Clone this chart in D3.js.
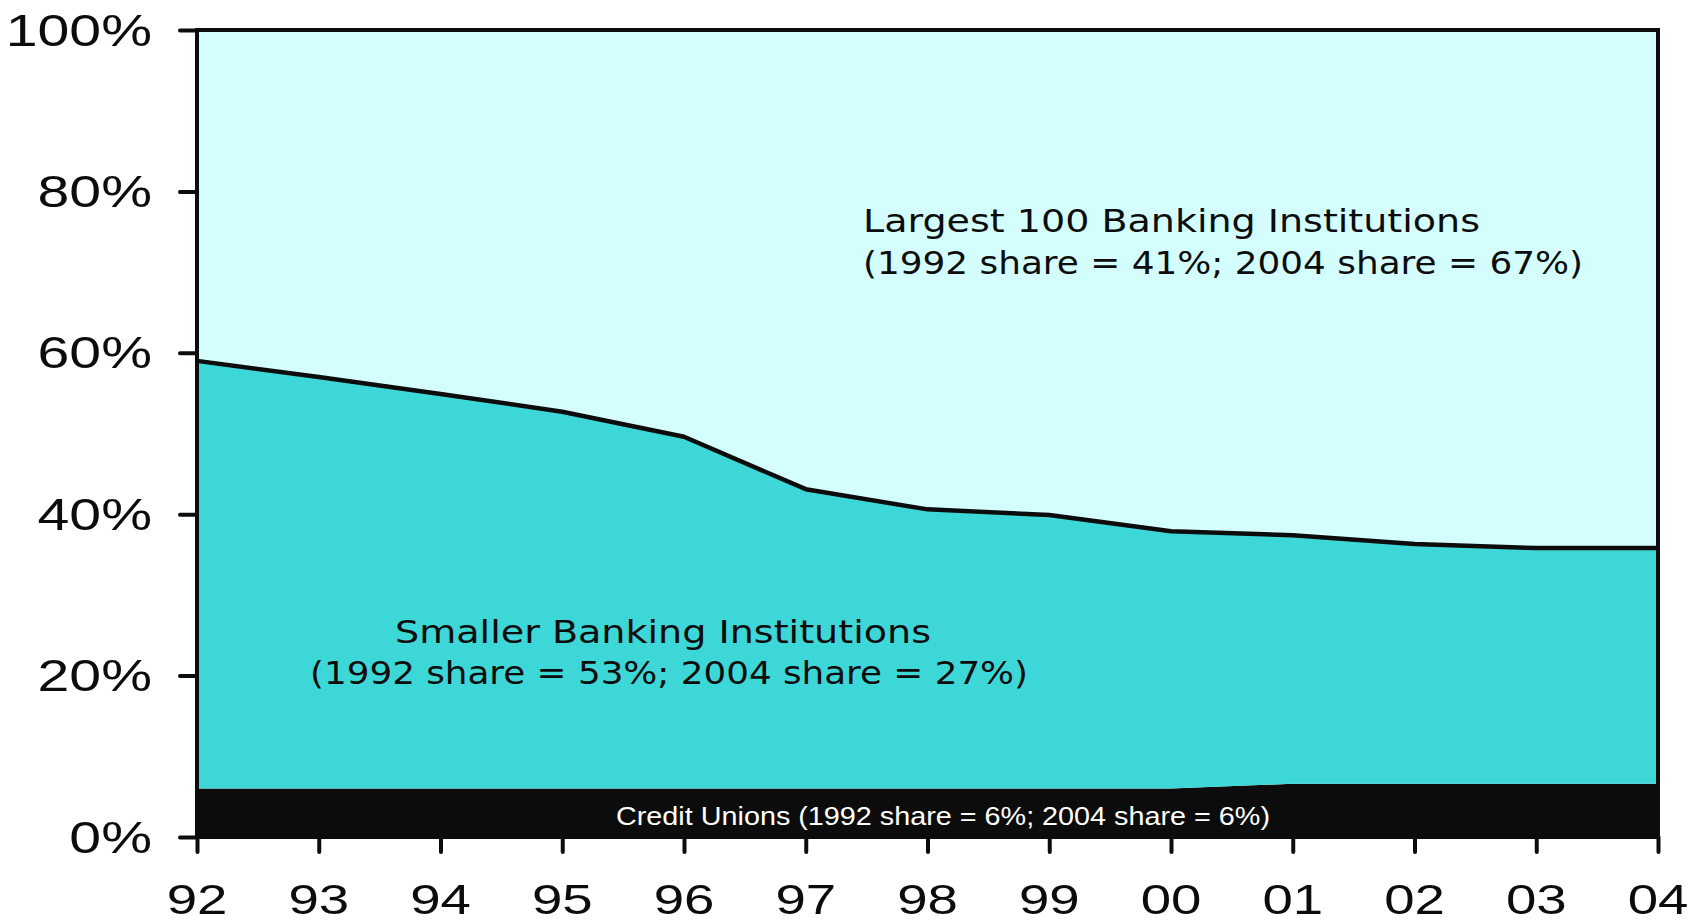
<!DOCTYPE html>
<html>
<head>
<meta charset="utf-8">
<script src="https://cdn.jsdelivr.net/npm/d3@7"></script>
<style>
  body { margin: 0; background: #fff; }
  svg { display: block; }
</style>
</head>
<body>
<svg width="1700" height="922"></svg>
<script>
// shares of deposits (%)
var years = [1992, 1993, 1994, 1995, 1996, 1997, 1998, 1999, 2000, 2001, 2002, 2003, 2004];
var yearLabels = ["92", "93", "94", "95", "96", "97", "98", "99", "00", "01", "02", "03", "04"];
var creditUnions = [6.0, 6.0, 6.0, 6.0, 6.0, 6.0, 6.0, 6.0, 6.0, 6.6, 6.6, 6.6, 6.6];
var smallerBanks = [53.0, 51.0, 48.9, 46.7, 43.6, 37.1, 34.6, 33.9, 31.9, 30.8, 29.7, 29.2, 29.2];
var largestBanks = [41.0, 43.0, 45.1, 47.3, 50.4, 56.9, 59.4, 60.1, 62.1, 62.6, 63.7, 64.2, 64.2];
var yTicks = [0, 20, 40, 60, 80, 100];

(function () {

    var svg = d3.select("svg");
    var plotLeft = 197, plotRight = 1658, plotTop = 30, plotBottom = 837;

    var x = d3.scaleLinear().domain([1992, 2004]).range([plotLeft, plotRight]);
    var y = d3.scaleLinear().domain([0, 100]).range([plotBottom, plotTop]);

    var rows = years.map(function (yr, i) {
        return { year: yr, credit: creditUnions[i], smaller: smallerBanks[i], largest: largestBanks[i] };
    });
    var keys = ["credit", "smaller", "largest"];
    var colors = { credit: "#0c0c0c", smaller: "#3ed7d7", largest: "#d4fefe" };
    var series = d3.stack().keys(keys)(rows);

    var area = d3.area()
        .x(function (d) { return x(d.data.year); })
        .y0(function (d) { return y(d[0]); })
        .y1(function (d) { return y(d[1]); });

    svg.selectAll(".layer")
        .data(series)
        .enter().append("path")
        .attr("class", "layer")
        .attr("fill", function (d) { return colors[d.key]; })
        .attr("d", area);

    // line on top of the smaller banks layer
    var topLine = d3.line()
        .x(function (d) { return x(d.data.year); })
        .y(function (d) { return y(d[1]); });
    svg.append("path")
        .datum(series[1])
        .attr("fill", "none")
        .attr("stroke", "#0c0c0c")
        .attr("stroke-width", 4.5)
        .attr("stroke-linejoin", "round")
        .attr("d", topLine);

    // frame
    svg.append("rect")
        .attr("x", plotLeft).attr("y", plotTop)
        .attr("width", plotRight - plotLeft).attr("height", plotBottom - plotTop)
        .attr("fill", "none")
        .attr("stroke", "#0c0c0c")
        .attr("stroke-width", 4);

    // axes
    var yAxis = svg.append("g")
        .attr("transform", "translate(" + plotLeft + ",0)")
        .call(d3.axisLeft(y).tickValues(yTicks).tickSize(17).tickFormat(""));
    var xAxis = svg.append("g")
        .attr("transform", "translate(0," + plotBottom + ")")
        .call(d3.axisBottom(x).tickValues(years).tickSize(15).tickFormat(""));
    [yAxis, xAxis].forEach(function (ax) {
        ax.select(".domain").remove();
        ax.selectAll(".tick line")
            .attr("stroke", "#0c0c0c")
            .attr("stroke-width", 4)
            .attr("stroke-linecap", "round");
    });

    // tick labels, stretched sideways like the original
    svg.selectAll(".ylab")
        .data(yTicks)
        .enter().append("text")
        .attr("class", "ylab")
        .attr("transform", function (d) { return "translate(152," + (y(d) + 15.5) + ") scale(1.3,1)"; })
        .attr("text-anchor", "end")
        .attr("font-family", "Liberation Sans, Arial, sans-serif")
        .attr("font-size", 44)
        .attr("fill", "#0c0c0c")
        .text(function (d) { return d + "%"; });

    svg.selectAll(".xlab")
        .data(years)
        .enter().append("text")
        .attr("class", "xlab")
        .attr("transform", function (d) { return "translate(" + x(d) + ",914) scale(1.27,1)"; })
        .attr("text-anchor", "middle")
        .attr("font-family", "Liberation Sans, Arial, sans-serif")
        .attr("font-size", 43)
        .attr("fill", "#0c0c0c")
        .text(function (d, i) { return yearLabels[i]; });

    // layer annotations
    var notes = [
        { text: "Largest 100 Banking Institutions", x: 863, y: 232, len: 617 },
        { text: "(1992 share = 41%; 2004 share = 67%)", x: 863, y: 274, len: 720 },
        { text: "Smaller Banking Institutions", x: 395, y: 643, len: 536 },
        { text: "(1992 share = 53%; 2004 share = 27%)", x: 310, y: 684, len: 718 }
    ];
    svg.selectAll(".note")
        .data(notes)
        .enter().append("text")
        .attr("class", "note")
        .attr("x", function (d) { return d.x; })
        .attr("y", function (d) { return d.y; })
        .attr("textLength", function (d) { return d.len; })
        .attr("lengthAdjust", "spacingAndGlyphs")
        .attr("font-family", "DejaVu Sans, sans-serif")
        .attr("font-size", 32)
        .attr("fill", "#0c0c0c")
        .text(function (d) { return d.text; });

    svg.append("text")
        .attr("x", 616)
        .attr("y", 825)
        .attr("textLength", 654)
        .attr("lengthAdjust", "spacingAndGlyphs")
        .attr("font-family", "Liberation Sans, Arial, sans-serif")
        .attr("font-size", 25)
        .attr("fill", "#ffffff")
        .text("Credit Unions (1992 share = 6%; 2004 share = 6%)");

})();
</script>
</body>
</html>
